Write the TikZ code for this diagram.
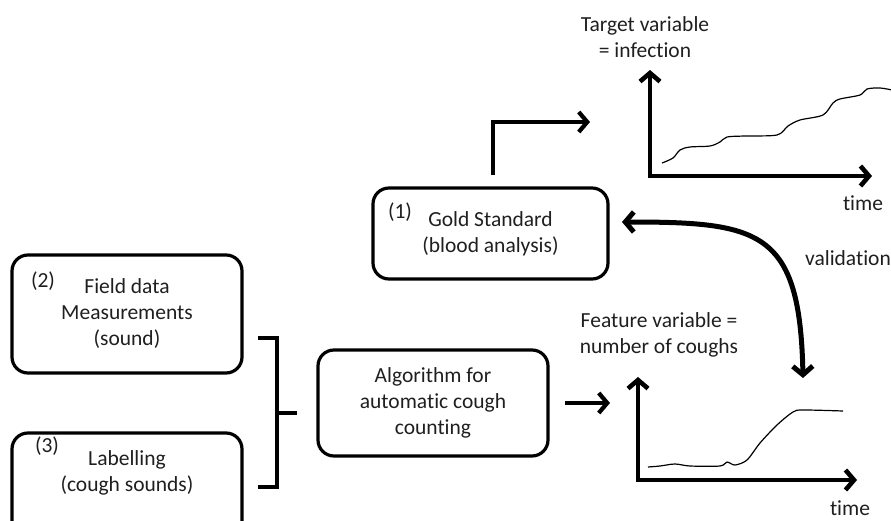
\documentclass[tikz,border=0pt]{standalone}
\usepackage{fontspec}
\setmainfont{Carlito}[Ligatures=NoCommon]
\usetikzlibrary{arrows.meta}
\begin{document}
\begin{tikzpicture}[x=1pt,y=-1pt,
  lbl/.style={align=center, inner sep=0pt, outer sep=0pt, text=black!88, font=\fontsize{21.5}{26}\selectfont},
  box/.style={lbl, draw=black, line width=3.2pt, rounded corners=16pt},
  barb/.tip={Straight Barb[length=8.5pt,width=20pt]},
  flow/.style={line width=4.2pt, -barb, line join=miter},
  axis/.style={line width=4.6pt, barb-barb, line join=miter},
  valid/.style={line width=5pt, barb-barb},
  brace/.style={line width=3.2pt, line join=miter},
  trace/.style={line width=1.2pt, line join=round}]
\useasboundingbox (0,0) rectangle (891,521);
\clip (0,0) rectangle (891,521);

% boxes
\node[box, minimum width=235pt, minimum height=91pt] (gold) at (490.5,233.5) {Gold Standard\\(blood analysis)};
\node[lbl] (n1) at (400,212) {(1)};
\node[box, minimum width=230pt, minimum height=118pt] (field) at (127,314) {Field data\\Measurements\\(sound)};
\node[lbl] (n2) at (43,281) {(2)};
\node[box, minimum width=230pt, minimum height=114pt, anchor=north] (lab) at (127,433) {};
\node[lbl] (labtxt) at (127,473) {Labelling\\(cough sounds)};
\node[lbl] (n3) at (47,446) {(3)};
\node[box, minimum width=230pt, minimum height=106pt] (algo) at (433,403) {Algorithm for\\automatic cough\\counting};

% bracket joining the two inputs
\coordinate (bt) at (258,338);
\coordinate (bb) at (258,487);
\coordinate (bm) at (277,413);
\coordinate (bo) at (297,413);
\draw[brace] (bt) -| (bm) |- (bb);
\draw[brace] (bm) -- (bo);

% upper plot: target variable
\node[lbl] (ttl) at (645,37) {Target variable\\= infection};
\coordinate (to) at (650,176);
\coordinate (ty) at (650,70);
\coordinate (tx) at (872,176);
\draw[axis] (ty) -- (to) -- (tx);
\node[lbl] (tt) at (863,203) {time};
\draw[trace] plot[smooth, tension=0.5] coordinates {(662,163) (673,158) (680,150) (690,147) (710,146) (720,142) (727,137) (745,136) (777,135) (788,126) (800,120) (823,115) (833,103) (840,99) (860,95) (867,89) (880,88) (892,90)};

% lower plot: feature variable
\node[lbl] (ftl) at (659,335) {Feature variable =\\number of coughs};
\coordinate (fo) at (638,480);
\coordinate (fy) at (638,377);
\coordinate (fx) at (857,480);
\draw[axis] (fy) -- (fo) -- (fx);
\node[lbl] (ft) at (850,508) {time};
\draw[trace] plot[smooth, tension=0.5] coordinates {(648,467) (660,466) (675,464) (690,466) (720,466) (727,462) (735,465) (747,460) (760,443) (777,425) (793,412) (803,410) (843,411)};

% connectors
\coordinate (gup) at (493,175);
\coordinate (gturn) at (493,122);
\coordinate (gend) at (590,122);
\draw[flow] (gup) -- (gturn) -- (gend);

\coordinate (as) at (565,403);
\coordinate (ae) at (610,403);
\draw[flow] (as) -- (ae);

\coordinate (vs) at (622,222);
\coordinate (ve) at (803,378);
\draw[valid] (vs) .. controls (760,222) and (800,230) .. (ve);
\node[lbl] (vl) at (848,258) {validation};
\end{tikzpicture}
\end{document}
